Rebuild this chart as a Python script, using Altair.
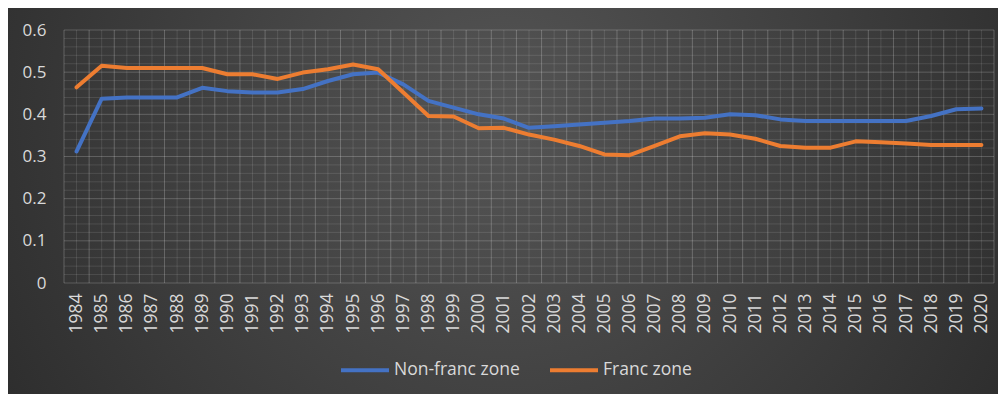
import altair as alt
import pandas as pd
import numpy as np

years = list(range(1984, 2021))
non_franc = [0.312, 0.437, 0.44, 0.44, 0.44, 0.463, 0.455, 0.452, 0.452, 0.46,
             0.479, 0.495, 0.499, 0.471, 0.432, 0.416, 0.40, 0.39, 0.368, 0.372,
             0.376, 0.38, 0.384, 0.39, 0.39, 0.392, 0.40, 0.398, 0.388, 0.384,
             0.384, 0.384, 0.384, 0.384, 0.396, 0.412, 0.414]
franc = [0.464, 0.515, 0.51, 0.51, 0.51, 0.51, 0.495, 0.495, 0.484, 0.499,
         0.507, 0.518, 0.507, 0.452, 0.396, 0.395, 0.367, 0.368, 0.352, 0.34,
         0.325, 0.305, 0.303, 0.325, 0.348, 0.355, 0.352, 0.342, 0.325, 0.321,
         0.321, 0.336, 0.334, 0.331, 0.327, 0.327, 0.327]
series_names = ["Non-franc zone", "Franc zone"]
series_colors = ["#4472C4", "#ED7D31"]
y_ticks = [0, 0.1, 0.2, 0.3, 0.4, 0.5, 0.6]

df_nf = pd.DataFrame({"year": years, "value": non_franc, "series": series_names[0]})
df_f = pd.DataFrame({"year": years, "value": franc, "series": series_names[1]})

# grid positions (band boundaries / centres, 0.1 major and 0.02 minor)
vx_major = pd.DataFrame({"year": [y - 0.5 for y in years] + [years[-1] + 0.5]})
vx_minor = pd.DataFrame({"year": years})
hy_major = pd.DataFrame({"value": y_ticks})
hy_minor = pd.DataFrame({"value": [round(0.02 * i, 2) for i in range(31) if i % 5 != 0]})

W, H = 930, 253
PL, PT, PR, PB = 56, 22, 4, 111

label_color = "#d9d9d9"
font = "Open Sans"

x_scale = alt.Scale(domain=[1983.5, 2020.5], nice=False, zero=False)
y_scale = alt.Scale(domain=[0, 0.6], nice=False)
color_scale = alt.Scale(domain=series_names, range=series_colors)

x_axis = alt.Axis(
    values=years, title=None, domain=False, ticks=False, grid=False,
    format="d", labelAngle=270, labelFontSize=17.5, labelColor=label_color,
    labelFont=font, labelPadding=10, labelOverlap=False, labelFlush=False,
    zindex=1,
)
y_axis = alt.Axis(
    values=y_ticks, title=None, domain=False, ticks=False, grid=False,
    labelExpr="datum.value == 0 ? '0' : format(datum.value, '.1f')",
    labelFontSize=17, labelColor=label_color, labelFont=font, labelPadding=18,
    labelOverlap=False, labelFlush=False, zindex=1,
)

X = alt.X("year:Q", scale=x_scale, axis=x_axis)
Y = alt.Y("value:Q", scale=y_scale, axis=y_axis)

bg = alt.Chart(pd.DataFrame({"a": [0]})).mark_rect(
    fill=alt.RadialGradient(
        gradient="radial",
        stops=[alt.GradientStop(offset=0, color="#555555"),
               alt.GradientStop(offset=1, color="#222222")],
        x1=0.5, y1=0.42, r1=0, x2=0.5, y2=0.42, r2=0.75,
    ),
).encode(
    x=alt.value(-PL), x2=alt.value(W + PR), y=alt.value(-PT), y2=alt.value(H + PB)
)

def vgrid(df, col):
    return alt.Chart(df).mark_rule(stroke=col, strokeWidth=1).encode(
        x=X, y=alt.value(0), y2=alt.value(H))

def hgrid(df, col):
    return alt.Chart(df).mark_rule(stroke=col, strokeWidth=1).encode(
        y=Y, x=alt.value(0), x2=alt.value(W))

legend = alt.Legend(
    title=None, orient="none", legendX=275, legendY=314, direction="horizontal",
    symbolType="stroke", symbolSize=2304, symbolStrokeWidth=4,
    labelFontSize=17.5, labelColor=label_color, labelFont=font, labelOffset=3,
    columnPadding=22, padding=0,
)

def line_layer(df):
    return alt.Chart(df).mark_line(strokeWidth=4, strokeJoin="round", strokeCap="round").encode(
        x=X, y=Y,
        color=alt.Color("series:N", scale=color_scale, legend=legend, sort=series_names),
    )

chart = alt.layer(
    bg,
    hgrid(hy_minor, "rgba(255,255,255,0.11)"),
    vgrid(vx_minor, "rgba(255,255,255,0.11)"),
    hgrid(hy_major, "rgba(255,255,255,0.20)"),
    vgrid(vx_major, "rgba(255,255,255,0.22)"),
    line_layer(df_nf),
    line_layer(df_f),
).properties(
    width=W, height=H,
    autosize=alt.AutoSizeParams(type="none"),
    padding={"left": PL, "top": PT, "right": PR, "bottom": PB},
    background="#262626",
).configure_view(stroke=None)

chart.save("out.html", embed_options={"renderer": "svg", "actions": False})
